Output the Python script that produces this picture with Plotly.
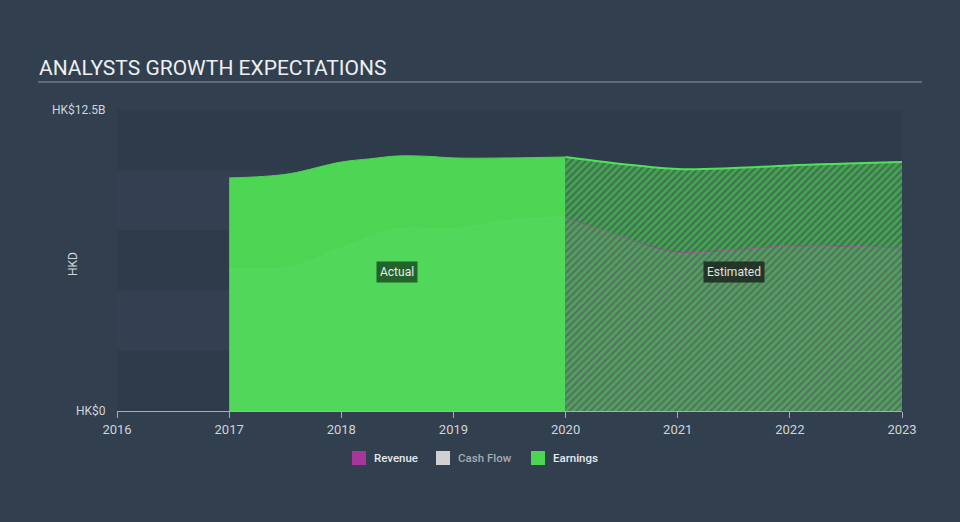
import plotly.graph_objects as go

# earnings, HK$ billions (actual 2017-2020, estimates 2020-2023)
earn_act_x = [2017, 2017.3, 2017.55, 2018, 2018.25, 2018.5, 2018.75, 2019, 2019.5, 2020]
earn_act_y = [9.68, 9.74, 9.86, 10.34, 10.47, 10.59, 10.58, 10.51, 10.51, 10.55]
earn_est_x = [2020, 2020.5, 2021, 2021.5, 2022, 2023]
earn_est_y = [10.55, 10.26, 10.05, 10.09, 10.2, 10.34]

# revenue, HK$ billions
rev_act_x = [2017, 2017.55, 2018, 2018.5, 2019, 2019.5, 2020]
rev_act_y = [5.94, 5.98, 6.77, 7.56, 7.56, 7.93, 8.06]
rev_est_x = [2020, 2020.5, 2021, 2021.5, 2022, 2023]
rev_est_y = [8.06, 7.23, 6.6, 6.69, 6.85, 6.77]

years = [2016, 2017, 2018, 2019, 2020, 2021, 2022, 2023]
ytick_vals = [0, 12.5]
ytick_text = ['HK$0', 'HK$12.5B']

legend_names = ['Revenue', 'Cash Flow', 'Earnings']
legend_colors = ['#a6369a', '#d0d0d0', '#4cd654']
legend_text_colors = ['#e6e9ec', '#a4abb3', '#e6e9ec']

GREEN = '#4cd654'
B = 1e9

# pixel -> paper helpers (plot area: x 117..902, y 110..411)
def px(x):
    return (x - 117) / 785

def py(y):
    return (411 - y) / 301

fig = go.Figure()

# earnings areas
fig.add_trace(go.Scatter(x=earn_act_x, y=[v * B for v in earn_act_y], mode='lines', fill='tozeroy',
                         fillcolor=GREEN, line=dict(color=GREEN, width=1, shape='spline'),
                         showlegend=False, hoverinfo='skip'))
fig.add_trace(go.Scatter(x=earn_est_x, y=[v * B for v in earn_est_y], mode='lines', fill='tozeroy',
                         fillcolor='#417652',
                         fillpattern=dict(shape='/', fgcolor=GREEN, bgcolor='#3f7150', size=5, solidity=0.55),
                         line=dict(color='#4fe357', width=2, shape='spline'),
                         showlegend=False, hoverinfo='skip'))

# revenue overlays
fig.add_trace(go.Scatter(x=rev_act_x, y=[v * B for v in rev_act_y], mode='lines', fill='tozeroy',
                         fillcolor='rgba(255,255,255,0.03)', line=dict(color='rgba(255,255,255,0.05)', width=1, shape='spline'),
                         showlegend=False, hoverinfo='skip'))
fig.add_trace(go.Scatter(x=rev_est_x, y=[v * B for v in rev_est_y], mode='lines', fill='tozeroy',
                         fillcolor='rgba(165,140,165,0.16)', line=dict(color='#a0509a', width=1.5, dash='dot', shape='spline'),
                         showlegend=False, hoverinfo='skip'))

# horizontal bands
shapes = []
for i in range(5):
    if i % 2 == 0:
        shapes.append(dict(type='rect', xref='paper', yref='y', x0=0, x1=1, y0=i * 2.5 * B, y1=(i + 1) * 2.5 * B,
                           fillcolor='#2e3b4a', line=dict(width=0), layer='below'))
# title underline
shapes.append(dict(type='line', xref='paper', yref='paper', x0=px(38), x1=px(922), y0=py(82), y1=py(82),
                   line=dict(color='#8f99a3', width=1)))

annotations = [
    dict(text='ANALYSTS GROWTH EXPECTATIONS', xref='paper', yref='paper', x=px(37), y=py(68),
         xanchor='left', yanchor='middle', showarrow=False, font=dict(size=21, color='#eceff1')),
    dict(text='HKD', xref='paper', yref='paper', x=px(64), y=py(264), textangle=-90,
         showarrow=False, font=dict(size=12, color='#d0d4d8')),
    dict(text='Actual', x=2018.5, y=5.77 * B, showarrow=False, bgcolor='#23622a',
         font=dict(size=12, color='#e8ece8'), borderpad=3),
    dict(text='Estimated', x=2021.5, y=5.77 * B, showarrow=False, bgcolor='rgba(28,38,32,0.85)',
         font=dict(size=12, color='#e0e4e0'), borderpad=3),
]

# custom legend (squares + labels)
leg_x = [352, 436, 531]
for lx, name, col, tcol in zip(leg_x, legend_names, legend_colors, legend_text_colors):
    shapes.append(dict(type='rect', xref='paper', yref='paper', x0=px(lx), x1=px(lx + 14),
                       y0=py(465), y1=py(451), fillcolor=col, line=dict(width=0)))
    annotations.append(dict(text=name, xref='paper', yref='paper', x=px(lx + 20), y=py(458),
                            xanchor='left', yanchor='middle', showarrow=False,
                            font=dict(size=11.5, color=tcol, family='Roboto Medium, Roboto')))

fig.update_layout(
    width=960, height=522,
    margin=dict(l=117, r=58, t=110, b=111),
    paper_bgcolor='#323f4f', plot_bgcolor='#334051',
    font=dict(family='Roboto', color='#d0d4d8', size=12),
    showlegend=False,
    shapes=shapes,
    annotations=annotations,
    xaxis=dict(range=[2016, 2023], tickvals=years, showgrid=False, zeroline=False,
               showline=True, linecolor='#a5aeb8', linewidth=1, ticks='outside', ticklen=6,
               tickcolor='#a5aeb8', tickfont=dict(size=13, color='#d0d4d8')),
    yaxis=dict(range=[0, 12.5 * B], tickvals=[v * B for v in ytick_vals], ticktext=ytick_text,
               showgrid=False, zeroline=False, showline=False, ticks='outside', ticklen=8,
               tickcolor='rgba(0,0,0,0)', tickfont=dict(size=12, color='#d0d4d8')),
)

fig.write_html('out.html', config={'displayModeBar': False},
               post_script="document.body.style.margin='0';document.body.style.overflow='hidden';")
